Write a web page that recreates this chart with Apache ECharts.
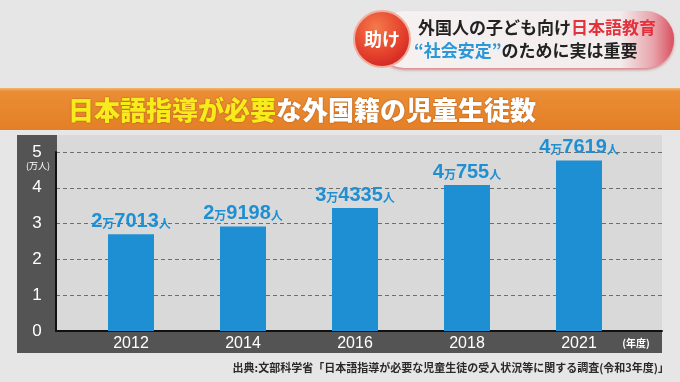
<!DOCTYPE html>
<html>
<head>
<meta charset="utf-8">
<script src="https://cdn.jsdelivr.net/npm/echarts@6/dist/echarts.min.js"></script>
<style>
html,body{margin:0;padding:0;background:#e6e6e6;}
#chart{width:680px;height:382px;}
</style>
</head>
<body>
<div id="chart"></div>
<script>
// ---- data ----
const years = ['2012', '2014', '2016', '2018', '2021'];
const students = [27013, 29198, 34335, 40755, 47619];   // persons
const yMin = 0, yMax = 5, yStep = 1;                      // unit: 万人
const headline1a = '外国人の子ども向け';
const headline1b = '日本語教育';
const headline2a = '“社会安定”';
const headline2b = 'のために実は重要';
const badgeText = '助け';
const titleYellow = '日本語指導が必要';
const titleWhite = 'な外国籍の児童生徒数';
const yUnit = '(万人)';
const xUnit = '(年度)';
const sourceText = '出典:文部科学省「日本語指導が必要な児童生徒の受入状況等に関する調査(令和3年度)」';

const valuesMan = students.map(v => v / 10000);

const JP = '"Noto Sans CJK JP", "Noto Sans", sans-serif';
const NUM = '"Liberation Sans", Arial, sans-serif';
const BLUE = '#1f8fd3';

const chart = echarts.init(document.getElementById('chart'), null, {renderer: 'canvas'});

function fmtLabel(p) {
  const v = students[p.dataIndex];
  const man = Math.floor(v / 10000);
  const rest = v % 10000;
  return '{n|' + man + '}{u|万}{n|' + rest + '}{u|人}';
}

const option = {
  backgroundColor: '#e6e6e6',
  animation: false,
  graphic: [
    // orange title band
    {type: 'rect', z: -10, shape: {x: 0, y: 88, width: 680, height: 42},
     style: {fill: new echarts.graphic.LinearGradient(0, 0, 0, 1, [
       {offset: 0, color: '#f3b676'}, {offset: 0.08, color: '#ea8d35'},
       {offset: 1, color: '#e47f26'}])}},
    {type: 'text', z: 5, x: 68, y: 110,
     style: {
       text: '{y|' + titleYellow + '}{w|' + titleWhite + '}',
       verticalAlign: 'middle',
       rich: {
         y: {fill: '#f8eb1c', fontSize: 26, fontWeight: 900, fontFamily: JP,
             textShadowColor: 'rgba(120,50,0,0.6)', textShadowBlur: 2},
         w: {fill: '#ffffff', fontSize: 26, fontWeight: 900, fontFamily: JP,
             textShadowColor: 'rgba(120,50,0,0.6)', textShadowBlur: 2}
       }
     }},
    // chart panels
    {type: 'rect', z: -10, shape: {x: 17, y: 135, width: 645, height: 218},
     style: {fill: '#545454'}},
    {type: 'rect', z: -9, shape: {x: 57, y: 135, width: 605, height: 196},
     style: {fill: '#d9d9d9'}},
    {type: 'text', z: 5, x: 38, y: 166,
     style: {text: yUnit, fill: '#ffffff', fontSize: 9, fontFamily: JP,
             align: 'center', verticalAlign: 'middle'}},
    {type: 'text', z: 5, x: 636, y: 343,
     style: {text: xUnit, fill: '#ffffff', fontSize: 10, fontWeight: 'bold', fontFamily: JP,
             align: 'center', verticalAlign: 'middle'}},
    // source
    {type: 'text', z: 5, x: 669, y: 368,
     style: {text: sourceText, fill: '#2a2a2a', fontSize: 11, fontWeight: 'bold', fontFamily: JP,
             align: 'right', verticalAlign: 'middle'}},
    // headline pill
    {type: 'rect', z: 1, shape: {x: 376, y: 11, width: 298, height: 57, r: 28},
     style: {fill: new echarts.graphic.LinearGradient(0, 0, 1, 0, [
       {offset: 0, color: '#f6f2f2'}, {offset: 0.82, color: '#f3eced'},
       {offset: 0.93, color: '#e8a3ab'}, {offset: 1, color: '#d8505d'}]),
       shadowColor: 'rgba(200,60,70,0.55)', shadowBlur: 3, shadowOffsetY: 2}},
    {type: 'circle', z: 2, shape: {cx: 382, cy: 39, r: 28},
     style: {fill: new echarts.graphic.RadialGradient(0.4, 0.3, 0.8, [
       {offset: 0, color: '#f47a4a'}, {offset: 0.6, color: '#e4402c'},
       {offset: 1, color: '#c81f22'}]),
       stroke: '#f0b0a0', lineWidth: 2}},
    {type: 'text', z: 3, x: 382, y: 39,
     style: {text: badgeText, fill: '#ffffff', fontSize: 18, fontWeight: 'bold', fontFamily: JP,
             align: 'center', verticalAlign: 'middle'}},
    {type: 'text', z: 3, x: 418, y: 28,
     style: {text: '{d|' + headline1a + '}{r|' + headline1b + '}',
             verticalAlign: 'middle',
             rich: {
               d: {fill: '#222222', fontSize: 17, fontWeight: 'bold', fontFamily: JP},
               r: {fill: '#e2323b', fontSize: 17, fontWeight: 'bold', fontFamily: JP}
             }}},
    {type: 'text', z: 3, x: 414, y: 51,
     style: {text: '{b|' + headline2a + '}{d|' + headline2b + '}',
             verticalAlign: 'middle',
             rich: {
               b: {fill: '#2a98d8', fontSize: 17, fontWeight: 'bold', fontFamily: JP},
               d: {fill: '#222222', fontSize: 17, fontWeight: 'bold', fontFamily: JP}
             }}}
  ],
  grid: [
    {left: 56, right: 18, top: 152, bottom: 51},
    {left: 75, right: 45, top: 152, bottom: 51}
  ],
  xAxis: [
    {gridIndex: 0, type: 'value', min: 0, max: 1,
     axisLine: {show: true, onZero: false, lineStyle: {color: '#111111', width: 2}},
     axisTick: {show: false}, axisLabel: {show: false}, splitLine: {show: false}},
    {gridIndex: 1, type: 'category', data: years,
     axisLine: {show: false}, axisTick: {show: false},
     axisLabel: {color: '#ffffff', fontSize: 16, fontFamily: NUM, margin: 5}}
  ],
  yAxis: [
    {gridIndex: 0, type: 'value', min: yMin, max: yMax, interval: yStep,
     axisLine: {show: true, lineStyle: {color: '#111111', width: 2}},
     axisTick: {show: false},
     axisLabel: {color: '#ffffff', fontSize: 17, fontFamily: NUM, align: 'center', margin: 19},
     splitLine: {show: true, lineStyle: {color: '#6e6e6e', type: [4, 3], width: 1}}},
    {gridIndex: 1, type: 'value', min: yMin, max: yMax, interval: yStep, show: false,
     splitLine: {show: false}}
  ],
  series: [{
    type: 'bar',
    xAxisIndex: 1, yAxisIndex: 1,
    data: valuesMan,
    barWidth: 46,
    itemStyle: {color: BLUE},
    label: {
      show: true, position: 'top', distance: 3,
      formatter: fmtLabel,
      rich: {
        n: {color: BLUE, fontSize: 20, fontWeight: 'bold', fontFamily: NUM},
        u: {color: BLUE, fontSize: 12, fontWeight: 'bold', fontFamily: JP, padding: [4, 0, 0, 0]}
      }
    }
  }]
};
chart.setOption(option);
</script>
</body>
</html>
